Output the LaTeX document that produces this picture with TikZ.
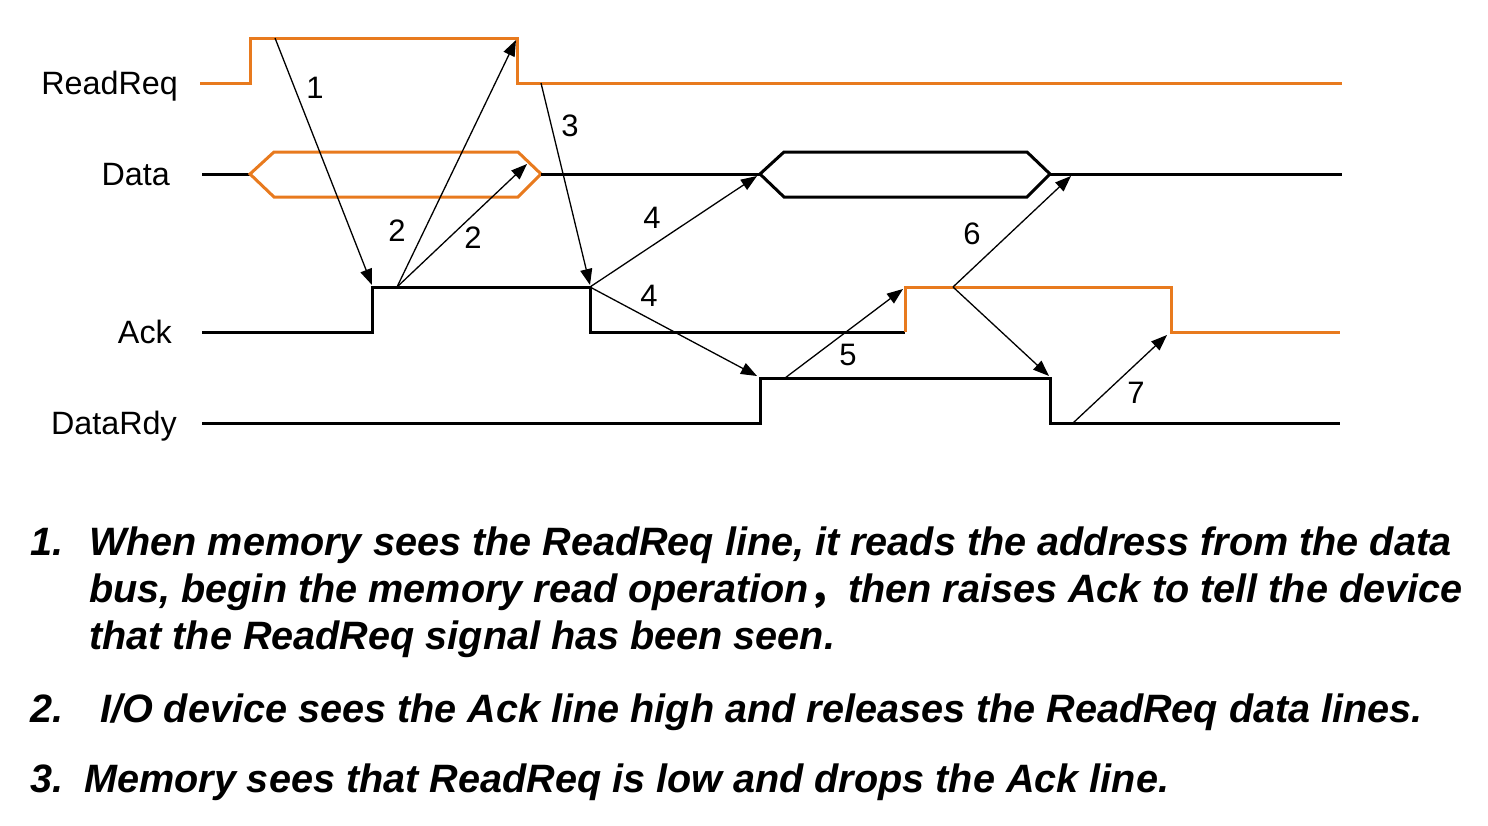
\documentclass[tikz,border=0pt]{standalone}
\usepackage{fontspec}
\setmainfont{Liberation Sans}
\newfontfamily\cjk{Noto Sans CJK SC}
\usetikzlibrary{arrows.meta}
\definecolor{sigorange}{RGB}{232,122,30}
\begin{document}
\begin{tikzpicture}[x=1pt,y=-1pt,
  sig/.style={line width=3pt, line join=miter, line cap=butt},
  osig/.style={sig, draw=sigorange},
  bsig/.style={sig, draw=black},
  evt/.style={line width=1.3pt, -{Triangle[length=16pt,width=12pt]}},
  num/.style={font=\fontsize{31}{36}\selectfont, inner sep=0pt},
  lbl/.style={font=\fontsize{32.3}{38}\selectfont, anchor=base east, inner sep=0pt},
  para/.style={font=\fontsize{39.6}{47}\selectfont\bfseries\itshape, anchor=base west, inner sep=0pt}]
\useasboundingbox (0,0) rectangle (1488,825);

% signal names
\node[lbl] (nReadReq) at (178,94) {ReadReq};
\node[lbl] (nData) at (170,185) {Data};
\node[lbl] (nAck) at (172,343) {Ack};
\node[lbl] (nDataRdy) at (177,434) {DataRdy};

% ReadReq
\draw[osig] (200,83) -- (250,83) -- (250,38) -- (517,38) -- (517,83) -- (1342,83);
% Data
\draw[bsig] (202,174) -- (250,174);
\draw[osig] (250,174) -- (274,152) -- (518,152) -- (541,174) -- (518,197) -- (274,197) -- cycle;
\draw[bsig] (541,174) -- (760,174);
\draw[bsig] (760,174) -- (784,152) -- (1027,152) -- (1050,174) -- (1027,197) -- (784,197) -- cycle;
\draw[bsig] (1050,174) -- (1342,174);
% Ack
\draw[bsig] (202,332) -- (372,332) -- (372,287) -- (590,287) -- (590,332) -- (905,332);
\draw[osig] (905,332) -- (905,287) -- (1171,287) -- (1171,332) -- (1340,332);
% DataRdy
\draw[bsig] (202,423) -- (760,423) -- (760,378) -- (1050,378) -- (1050,423) -- (1340,423);

% event points
\coordinate (s1) at (275,38);
\coordinate (e1) at (372,285);
\coordinate (s2) at (397,287);
\coordinate (e2a) at (516,40);
\coordinate (e2b) at (527,164);
\coordinate (s3) at (541,83);
\coordinate (e3) at (590,285);
\coordinate (s4) at (590,287);
\coordinate (e4a) at (757,176);
\coordinate (e4b) at (757,376);
\coordinate (s5) at (785,378);
\coordinate (e5) at (903,289);
\coordinate (s6) at (953,287);
\coordinate (e6a) at (1071,176);
\coordinate (e6b) at (1049,376);
\coordinate (s7) at (1073,423);
\coordinate (e7) at (1167,335);

\draw[evt] (s1) -- (e1);
\draw[evt] (s2) -- (e2a);
\draw[evt] (s2) -- (e2b);
\draw[evt] (s3) -- (e3);
\draw[evt] (s4) -- (e4a);
\draw[evt] (s4) -- (e4b);
\draw[evt] (s5) -- (e5);
\draw[evt] (s6) -- (e6a);
\draw[evt] (s6) -- (e6b);
\draw[evt] (s7) -- (e7);

% event numbers
\node[num] (l1) at (315,88) {1};
\node[num] (l2a) at (397,231) {2};
\node[num] (l2b) at (473,238) {2};
\node[num] (l3) at (570,126) {3};
\node[num] (l4a) at (652,218) {4};
\node[num] (l4b) at (649,296) {4};
\node[num] (l5) at (848,355) {5};
\node[num] (l6) at (972,234) {6};
\node[num] (l7) at (1136,393) {7};

% explanation
\node[para] (p1n) at (30,555) {1.};
\node[para] (p1a) at (89,555) {When memory sees the ReadReq line, it reads the address from the data};
\node[para] (p1b) at (89,602) {bus, begin the memory read operation{\cjk\bfseries ，}then raises Ack to tell the device};
\node[para] (p1c) at (89,649) {that the ReadReq signal has been seen.};
\node[para] (p2n) at (30,722) {2.};
\node[para] (p2a) at (100,722) {I/O device sees the Ack line high and releases the ReadReq data lines.};
\node[para] (p3n) at (30,792) {3.};
\node[para] (p3a) at (84,792) {Memory sees that ReadReq is low and drops the Ack line.};
\end{tikzpicture}
\end{document}
